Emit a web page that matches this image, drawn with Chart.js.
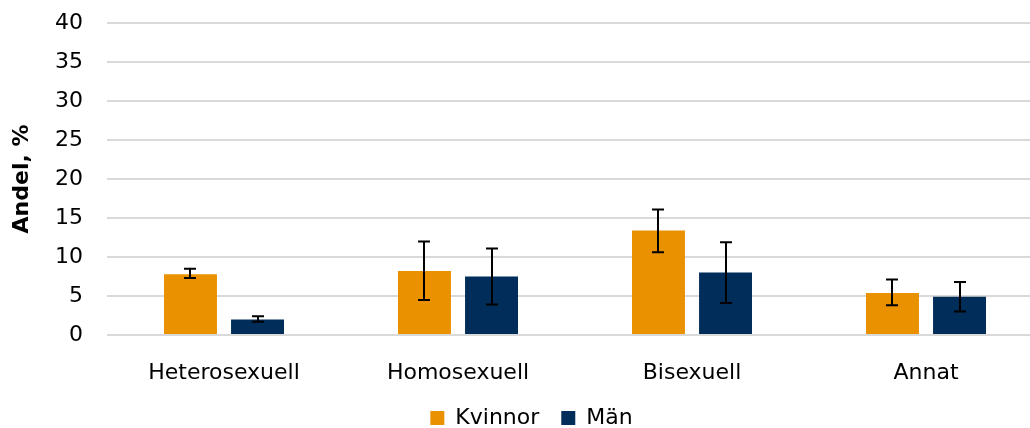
<!DOCTYPE html>
<html>
<head>
<meta charset="utf-8">
<script src="https://cdn.jsdelivr.net/npm/chart.js@4/dist/chart.umd.min.js"></script>
<style>
html,body{margin:0;padding:0;background:#fff;overflow:hidden;}
#wrap{width:1030px;height:428px;position:relative;overflow:hidden;}
canvas{position:absolute;left:0;top:0;}
</style>
</head>
<body>
<div id="wrap"><canvas id="c" width="1043" height="439"></canvas></div>
<script>
const categories = ["Heterosexuell", "Homosexuell", "Bisexuell", "Annat"];
const seriesNames = ["Kvinnor", "Män"];
const kvinnor = [7.8, 8.2, 13.4, 5.4];
const kvinnorLow = [7.3, 4.5, 10.6, 3.8];
const kvinnorHigh = [8.5, 12.0, 16.1, 7.1];
const man = [2.0, 7.5, 8.0, 4.9];
const manLow = [1.7, 3.9, 4.1, 3.0];
const manHigh = [2.4, 11.1, 11.9, 6.8];
const yTicks = [0, 5, 10, 15, 20, 25, 30, 35, 40];

const FONT = '"DejaVu Sans", Verdana, sans-serif';

const errorBars = {
  id: 'errorBars',
  afterDatasetsDraw(chart) {
    const ctx = chart.ctx;
    const y = chart.scales.y;
    chart.data.datasets.forEach((ds, i) => {
      const meta = chart.getDatasetMeta(i);
      meta.data.forEach((bar, j) => {
        const x = Math.round(bar.x);
        const yl = y.getPixelForValue(ds.errLow[j]);
        const yh = y.getPixelForValue(ds.errHigh[j]);
        ctx.save();
        ctx.strokeStyle = '#000';
        ctx.lineWidth = 2;
        ctx.beginPath();
        ctx.moveTo(x, yl); ctx.lineTo(x, yh);
        ctx.moveTo(x - 6, yl); ctx.lineTo(x + 6, yl);
        ctx.moveTo(x - 6, yh); ctx.lineTo(x + 6, yh);
        ctx.stroke();
        ctx.restore();
      });
    });
  }
};

new Chart(document.getElementById('c'), {
  type: 'bar',
  data: {
    labels: categories,
    datasets: [
      { label: seriesNames[0], data: kvinnor, errLow: kvinnorLow, errHigh: kvinnorHigh, backgroundColor: '#EA9100', categoryPercentage: 0.573, barPercentage: 0.79 },
      { label: seriesNames[1], data: man, errLow: manLow, errHigh: manHigh, backgroundColor: '#002D5A', categoryPercentage: 0.573, barPercentage: 0.79 }
    ]
  },
  options: {
    responsive: false,
    animation: false,
    layout: { padding: { top: 0, right: 0, left: 20, bottom: 0 } },
    scales: {
      x: {
        grid: { display: false },
        border: { display: false },
        ticks: { color: '#000', font: { size: 22, family: FONT }, padding: 17 },
        afterFit(axis) { axis.height = 50; }
      },
      y: {
        min: 0, max: 40,
        afterBuildTicks(axis) { axis.ticks = yTicks.map(v => ({ value: v })); },
        grid: { color: '#d9d9d9', lineWidth: 2, drawTicks: false },
        border: { display: false },
        ticks: { color: '#000', font: { size: 22, family: FONT }, padding: 24 },
        title: { display: true, text: 'Andel, %', color: '#000', font: { size: 22, weight: 'bold', family: FONT }, padding: { top: -11, bottom: 0 } },
        afterFit(axis) { axis.width = 87; axis.paddingTop = 23; axis.paddingBottom = 0; }
      }
    },
    plugins: {
      legend: {
        position: 'bottom',
        labels: { color: '#000', font: { size: 22, family: FONT }, boxWidth: 14, boxHeight: 14, padding: 22 }
      },
      tooltip: { enabled: false }
    }
  },
  plugins: [errorBars]
});
</script>
</body>
</html>
